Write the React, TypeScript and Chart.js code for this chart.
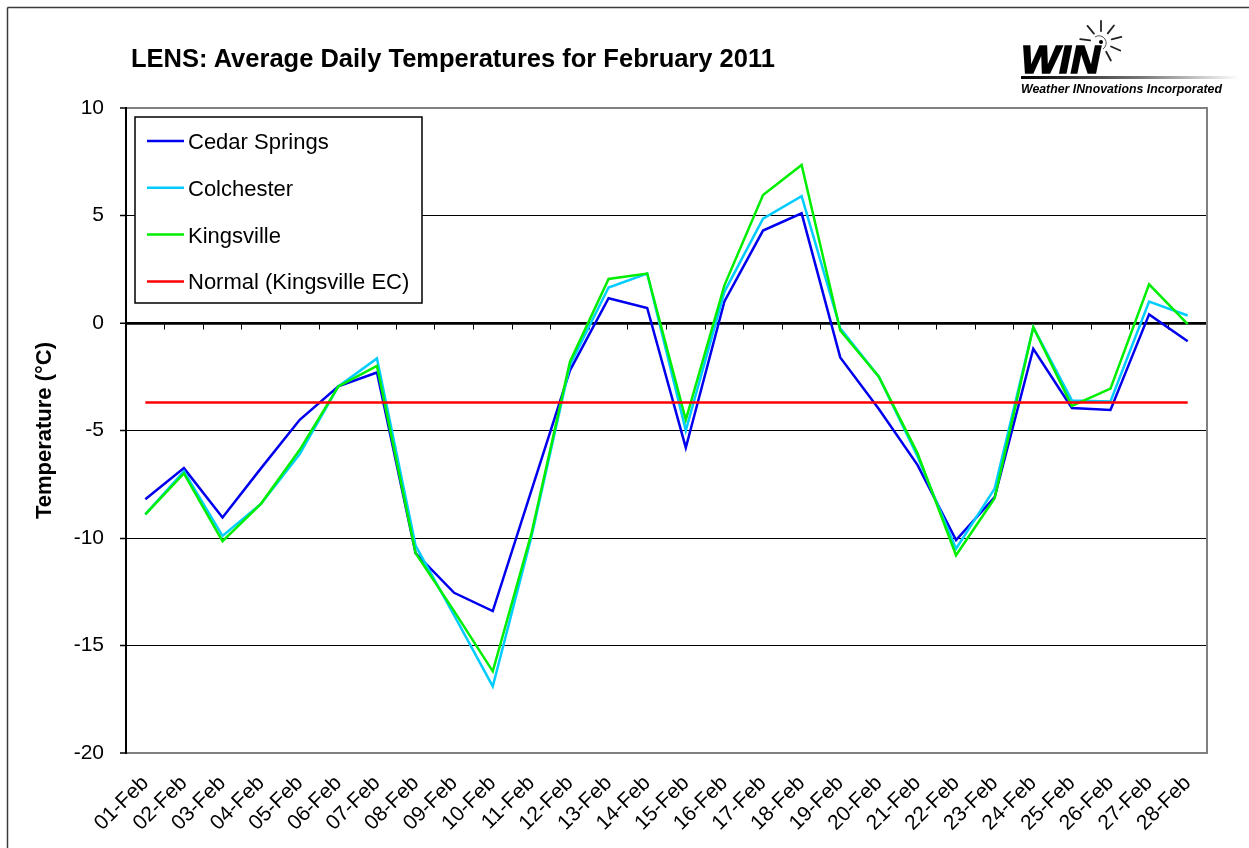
import React, { useEffect, useRef } from "react";
import { Chart, registerables } from "chart.js";

Chart.register(...registerables);

const FONT = "'Liberation Sans', Arial, Helvetica, sans-serif";

const dates = [
  "01-Feb", "02-Feb", "03-Feb", "04-Feb", "05-Feb", "06-Feb", "07-Feb",
  "08-Feb", "09-Feb", "10-Feb", "11-Feb", "12-Feb", "13-Feb", "14-Feb",
  "15-Feb", "16-Feb", "17-Feb", "18-Feb", "19-Feb", "20-Feb", "21-Feb",
  "22-Feb", "23-Feb", "24-Feb", "25-Feb", "26-Feb", "27-Feb", "28-Feb",
];

const cedarSprings = [
  -8.2, -6.75, -9.05, -6.75, -4.5, -2.95, -2.3, -10.7, -12.55, -13.4,
  -7.8, -2.2, 1.15, 0.7, -5.8, 1.0, 4.3, 5.1, -1.6, -4.0,
  -6.6, -10.1, -8.1, -1.2, -3.95, -4.05, 0.4, -0.85,
];

const colchester = [
  -8.9, -6.9, -9.9, -8.4, -6.1, -2.95, -1.65, -10.35, -13.6, -16.9,
  -9.95, -1.95, 1.65, 2.3, -5.0, 1.45, 4.85, 5.9, -0.25, -2.5,
  -6.2, -10.5, -7.7, -0.2, -3.6, -3.65, 1.0, 0.35,
];

const kingsville = [
  -8.9, -7.0, -10.15, -8.4, -5.9, -2.95, -2.0, -10.7, -13.4, -16.2,
  -9.8, -1.8, 2.05, 2.3, -4.5, 1.75, 5.95, 7.35, -0.35, -2.5,
  -6.05, -10.8, -8.15, -0.2, -3.85, -3.05, 1.8, -0.05,
];

const normalKingsvilleEC = [
  -3.7, -3.7, -3.7, -3.7, -3.7, -3.7, -3.7, -3.7, -3.7, -3.7,
  -3.7, -3.7, -3.7, -3.7, -3.7, -3.7, -3.7, -3.7, -3.7, -3.7,
  -3.7, -3.7, -3.7, -3.7, -3.7, -3.7, -3.7, -3.7,
];

const seriesNames = ["Cedar Springs", "Colchester", "Kingsville", "Normal (Kingsville EC)"];
const seriesColors = ["#0000EE", "#00CCFF", "#00EE00", "#FF0000"];
const yMin = -20;
const yMax = 10;
const yStep = 5;

const titleText = "LENS: Average Daily Temperatures for February 2011";
const yTitleText = "Temperature (°C)";

const boxLegend = {
  id: "boxLegend",
  afterDraw(chart: any) {
    const { ctx, chartArea } = chart;
    const x0 = chartArea.left + 9;
    const y0 = chartArea.top + 9;
    const w = 287;
    const h = 186;
    ctx.save();
    ctx.fillStyle = "#ffffff";
    ctx.fillRect(x0, y0, w, h);
    ctx.strokeStyle = "#000000";
    ctx.lineWidth = 1.5;
    ctx.strokeRect(x0, y0, w, h);
    ctx.font = `22px ${FONT}`;
    ctx.textBaseline = "alphabetic";
    ctx.textAlign = "left";
    chart.data.datasets.forEach((ds: any, i: number) => {
      const cy = y0 + 24 + i * 46.8;
      ctx.strokeStyle = ds.borderColor;
      ctx.lineWidth = 2.5;
      ctx.beginPath();
      ctx.moveTo(x0 + 12, cy);
      ctx.lineTo(x0 + 49, cy);
      ctx.stroke();
      ctx.fillStyle = "#000000";
      ctx.fillText(ds.label, x0 + 53, cy + 8);
    });
    ctx.restore();
  },
};

function ChartCanvas() {
  const ref = useRef<HTMLCanvasElement | null>(null);
  useEffect(() => {
    if (!ref.current) return;
    const seriesData = [cedarSprings, colchester, kingsville, normalKingsvilleEC];
    const chart = new Chart(ref.current, {
      type: "line",
      data: {
        labels: dates,
        datasets: seriesData.map((d, i) => ({
          label: seriesNames[i],
          data: d,
          borderColor: seriesColors[i],
          backgroundColor: seriesColors[i],
          borderWidth: 2.5,
          pointRadius: 0,
          tension: 0,
          fill: false,
          order: 4 - i,
        })),
      },
      options: {
        animation: false,
        responsive: false,
        devicePixelRatio: 1,
        layout: { padding: { top: 108, right: 42, bottom: 0, left: 0 } },
        plugins: {
          legend: { display: false },
          tooltip: { enabled: false },
          title: { display: false },
        },
        scales: {
          x: {
            type: "category",
            position: "bottom",
            offset: true,
            grid: { display: false },
            border: { display: true, color: "#808080", width: 2 },
            ticks: {
              autoSkip: false,
              minRotation: 45,
              maxRotation: 45,
              padding: 10,
              color: "#000",
              font: { family: FONT, size: 21 },
            },
            afterFit: (scale: any) => {
              scale.height = 95;
            },
          },
          x2: {
            type: "category",
            labels: dates,
            position: { y: 0 } as any,
            offset: true,
            grid: {
              display: true,
              drawOnChartArea: false,
              drawTicks: true,
              tickLength: 5,
              offset: true,
              color: "#000",
              lineWidth: 1,
            },
            border: { display: true, color: "#000", width: 2.5 },
            ticks: { display: false },
          },
          y: {
            type: "linear",
            position: "left",
            min: yMin,
            max: yMax,
            ticks: {
              stepSize: yStep,
              padding: 16,
              color: "#000",
              font: { family: FONT, size: 21 },
            },
            grid: {
              color: (c: any) => (c.tick && (c.tick.value === yMax || c.tick.value === yMin) ? "#808080" : "#000"),
              lineWidth: (c: any) => (c.tick && c.tick.value === 0 ? 2.5 : c.tick && (c.tick.value === yMax || c.tick.value === yMin) ? 2 : 1),
              tickColor: "#000",
              tickWidth: 1.5,
              tickLength: 6,
            },
            border: { display: true, color: "#000", width: 2 },
            title: {
              display: true,
              text: yTitleText,
              color: "#000",
              font: { family: FONT, size: 22, weight: "bold" },
              padding: { top: 32, bottom: 0 },
            },
            afterFit: (scale: any) => {
              scale.width = 126;
            },
          },
          y2: {
            type: "linear",
            position: "right",
            grid: { display: false },
            ticks: { display: false },
            border: { display: true, color: "#808080", width: 2 },
            afterFit: (scale: any) => {
              scale.width = 0;
            },
          },
        },
      },
      plugins: [boxLegend],
    });
    return () => chart.destroy();
  }, []);
  return (
    <canvas
      ref={ref}
      width={1249}
      height={848}
      style={{ position: "absolute", left: 0, top: 0, width: 1249, height: 848 }}
    />
  );
}

const rayAngles = [-172, -130, -90, -52, -14, 24, 62];

function Overlay() {
  const cx = 1101;
  const cy = 42;
  return (
    <svg
      width={1249}
      height={848}
      style={{ position: "absolute", left: 0, top: 0, pointerEvents: "none" }}
    >
      <defs>
        <linearGradient id="winBar" x1="0" x2="1" y1="0" y2="0">
          <stop offset="0" stopColor="#000" />
          <stop offset="0.55" stopColor="#777" />
          <stop offset="1" stopColor="#fff" />
        </linearGradient>
      </defs>
      <line x1={7.5} y1={7.5} x2={1249} y2={7.5} stroke="#3a3a3a" strokeWidth={1.5} />
      <line x1={7.5} y1={7.5} x2={7.5} y2={848} stroke="#3a3a3a" strokeWidth={1.5} />
      <text x={131} y={66.7} fontFamily={FONT} fontWeight="bold" fontSize={25.5} fill="#000">
        {titleText}
      </text>
      {rayAngles.map((a, i) => {
        const r = (a * Math.PI) / 180;
        return (
          <line
            key={i}
            x1={cx + Math.cos(r) * 11}
            y1={cy + Math.sin(r) * 11}
            x2={cx + Math.cos(r) * 21}
            y2={cy + Math.sin(r) * 21}
            stroke="#222"
            strokeWidth={1.8}
            strokeLinecap="round"
          />
        );
      })}
      <path
        d={`M ${cx - 6} ${cy - 5} A 7 7 0 1 1 ${cx + 2} ${cy + 7}`}
        fill="none"
        stroke="#555"
        strokeWidth={1}
      />
      <circle cx={cx} cy={cy} r={2} fill="#000" />
      <text
        x={1021}
        y={73}
        fontFamily={FONT}
        fontWeight="bold"
        fontStyle="italic"
        fontSize={38}
        textLength={79}
        lengthAdjust="spacingAndGlyphs"
        fill="#000"
        stroke="#000"
        strokeWidth={1.6}
      >
        WIN
      </text>
      <rect x={1021} y={76} width={218} height={3} fill="url(#winBar)" />
      <text
        x={1021}
        y={93}
        fontFamily={FONT}
        fontWeight="bold"
        fontStyle="italic"
        fontSize={12}
        textLength={201}
        lengthAdjust="spacingAndGlyphs"
        fill="#000"
      >
        Weather INnovations Incorporated
      </text>
    </svg>
  );
}

export default function App() {
  return (
    <div style={{ position: "absolute", left: 0, top: 0, width: 1249, height: 848, background: "#fff", overflow: "hidden" }}>
      <ChartCanvas />
      <Overlay />
    </div>
  );
}
